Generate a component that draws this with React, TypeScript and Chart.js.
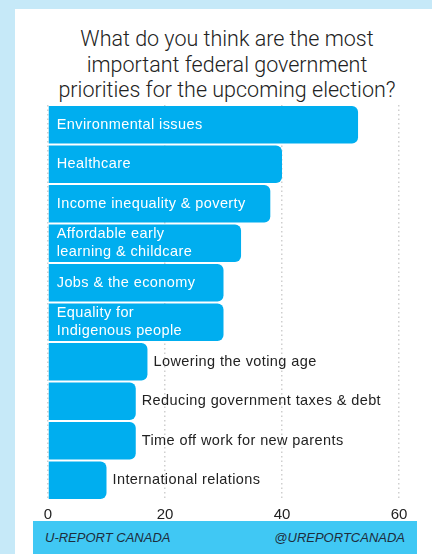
import React, { useEffect, useRef } from "react";
import { Chart, registerables } from "chart.js";

Chart.register(...registerables);

const categories: string[][] = [
  ["Environmental issues"],
  ["Healthcare"],
  ["Income inequality & poverty"],
  ["Affordable early", "learning & childcare"],
  ["Jobs & the economy"],
  ["Equality for", "Indigenous people"],
  ["Lowering the voting age"],
  ["Reducing government taxes & debt"],
  ["Time off work for new parents"],
  ["International relations"],
];
const values: number[] = [53, 40, 38, 33, 30, 30, 17, 15, 15, 10];
const xTicks: number[] = [0, 20, 40, 60];
const titleLines: string[] = [
  "What do you think are the most",
  "important federal government",
  "priorities for the upcoming election?",
];
const footerLeft = "U-REPORT CANADA";
const footerRight = "@UREPORTCANADA";

const LABEL_FONT = '14.5px "Liberation Sans", Arial, sans-serif';

const barLabelPlugin = {
  id: "barLabels",
  afterDatasetsDraw(chart: any) {
    const ctx = chart.ctx;
    const meta = chart.getDatasetMeta(0);
    ctx.save();
    ctx.font = LABEL_FONT;
    (ctx as any).letterSpacing = "0.4px";
    ctx.textBaseline = "middle";
    ctx.textAlign = "left";
    meta.data.forEach((bar: any, i: number) => {
      const lines = categories[i];
      const w = Math.max(...lines.map((l) => ctx.measureText(l).width));
      const barW = bar.x - bar.base;
      const inside = w + 16 < barW;
      const x = inside ? bar.base + 8 : bar.x + 6;
      ctx.fillStyle = inside ? "#ffffff" : "#222222";
      const lh = 18;
      const y0 = bar.y - ((lines.length - 1) * lh) / 2;
      lines.forEach((l, k) => ctx.fillText(l, x, y0 + k * lh));
    });
    ctx.restore();
  },
};

export default function App() {
  const ref = useRef<HTMLCanvasElement | null>(null);
  useEffect(() => {
    document.body.style.margin = "0";
    const c = new Chart(ref.current as HTMLCanvasElement, {
      type: "bar",
      data: {
        labels: categories.map((c) => c.join(" ")),
        datasets: [
          {
            data: values,
            backgroundColor: "#00aeef",
            borderRadius: 6,
            barPercentage: 0.95,
            categoryPercentage: 1,
          },
        ],
      },
      options: {
        indexAxis: "y",
        animation: false,
        responsive: false,
        layout: { padding: { left: 48, right: 33, top: 105, bottom: 24 } },
        plugins: { legend: { display: false }, tooltip: { enabled: false }, title: { display: false } },
        scales: {
          y: { display: false },
          x: {
            min: 0,
            max: 60,
            afterBuildTicks: (axis: any) => {
              axis.ticks = xTicks.map((v) => ({ value: v }));
            },
            border: { display: false, dash: [1.5, 3] },
            grid: {
              color: "#cfcfcf",
              lineWidth: 1.5,
              drawTicks: false,
            },
            ticks: {
              color: "#222",
              padding: 6,
              font: { family: '"Liberation Sans", Arial, sans-serif', size: 15 },
            },
          },
        },
      },
      plugins: [barLabelPlugin],
    } as any);
    return () => c.destroy();
  }, []);

  return (
    <div style={{ position: "fixed", left: 0, top: 0, width: 432, height: 554, background: "#c6e9f8", overflow: "hidden" }}>
      <div style={{ position: "absolute", left: 15, top: 9, right: 0, bottom: 0, background: "#ffffff" }} />
      <div
        style={{
          position: "absolute",
          left: 27,
          width: 400,
          top: 26,
          textAlign: "center",
          fontFamily: "Roboto, 'Liberation Sans', sans-serif",
          fontWeight: 300,
          fontSize: 21.5,
          lineHeight: "25.5px",
          color: "#222",
        }}
      >
        {titleLines.map((t, i) => (
          <div key={i}>{t}</div>
        ))}
      </div>
      <canvas ref={ref} width={432} height={554} style={{ position: "absolute", left: 0, top: 0 }} />
      <div
        style={{
          position: "absolute",
          left: 33,
          top: 521,
          width: 384,
          height: 33,
          background: "#40c8f4",
          fontFamily: "'Liberation Sans', Arial, sans-serif",
          fontStyle: "italic",
          fontSize: 13,
          color: "#1e2d3c",
          display: "flex",
          alignItems: "center",
          justifyContent: "space-between",
          padding: "0 12px",
          boxSizing: "border-box",
        }}
      >
        <span>{footerLeft}</span>
        <span>{footerRight}</span>
      </div>
    </div>
  );
}
